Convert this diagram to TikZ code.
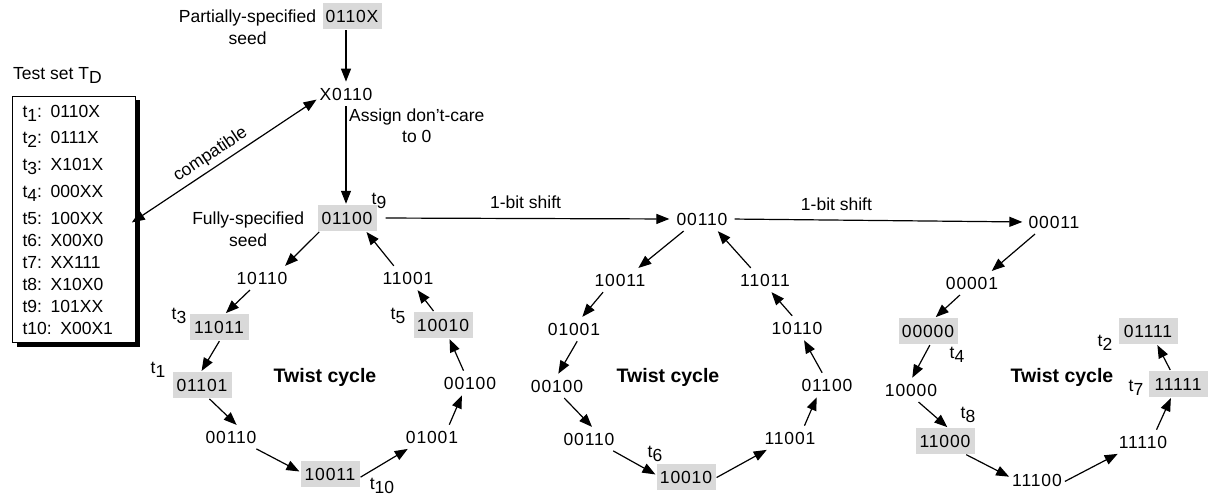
\documentclass[tikz,border=0pt]{standalone}
\usepackage{fontspec}
\setmainfont{Liberation Sans}
\newfontfamily\bitsfont{Liberation Sans}[LetterSpace=5]
\usetikzlibrary{arrows.meta,positioning,calc,shadows}
\newcommand{\tsub}[1]{t\raisebox{-0.22em}{#1}}

\begin{document}
\begin{tikzpicture}[
  x=1pt, y=-1pt,
  font=\fontsize{17.5}{21}\selectfont,
  >={Triangle[length=13pt,width=10pt]},
  bits/.style={font=\fontsize{17.5}{21}\selectfont\bitsfont,inner xsep=2pt,inner ysep=5pt},
  tv/.style={bits,fill=gray!30,minimum width=59pt,minimum height=26pt,inner sep=0pt},
  lbl/.style={inner sep=0pt},
  tlab/.style={inner sep=0pt},
  cyc/.style={font=\fontsize{19.5}{23}\selectfont\bfseries,inner sep=0pt},
  flow/.style={->,line width=1.2pt,shorten <=1pt,shorten >=1pt},
]
\useasboundingbox (0,0) rectangle (1208,500);

\node[lbl,anchor=base west] (tdtitle) at (13,80) {Test set T\raisebox{-0.22em}{D}};
\node[draw,fill=white,line width=1pt,anchor=north west,
  drop shadow={shadow xshift=4pt,shadow yshift=-4pt,fill=black,opacity=1},
  inner xsep=10pt,inner ysep=8.5pt,text width=103pt,align=left,
  font=\fontsize{17.5}{22}\selectfont] (tdbox) at (12,96)
  {\tsub{1}: 0110X\\[4pt]\tsub{2}: 0111X\\[5pt]\tsub{3}: X101X\\[5pt]\tsub{4}: 000XX\\[5pt]
   t5: 100XX\\t6: X00X0\\t7: XX111\\t8: X10X0\\t9: 101XX\\t10: X00X1};

\node[tv] (pseed) at (352,16) {0110X};
\node[lbl,anchor=base east] (ptxt) at ([xshift=-6pt]pseed.base west) {Partially-specified};
\node[lbl,anchor=base] (ptxtb) at ([yshift=-22pt]ptxt.base) {seed};
\node[bits] (unk) at (346,94) {X0110};
\node[lbl,anchor=base west] (asg1) at (349,122) {Assign don't-care};
\node[lbl,anchor=base] (asg2) at ([yshift=-21pt]asg1.base) {to 0};

% first twist cycle
\node[tv] (s1) at (347,218) {01100};
\node[lbl,anchor=base east] (ftxt) at ([xshift=-13pt]s1.base west) {Fully-specified};
\node[lbl,anchor=base] (ftxtb) at ([yshift=-22pt]ftxt.base) {seed};
\node[bits] (a1) at (262,278) {10110};
\node[tv] (a2) at (219,327) {11011};
\node[tv] (a3) at (202,385) {01101};
\node[bits] (a4) at (231,437) {00110};
\node[tv] (a5) at (330,474) {10011};
\node[bits] (a6) at (432,437) {01001};
\node[bits] (a7) at (470,383) {00100};
\node[tv] (a8) at (443,325) {10010};
\node[bits] (a9) at (408,278) {11001};
\node[cyc,anchor=base] (tw1) at (325,382) {Twist cycle};

% second twist cycle
\node[bits] (b0) at (702,219) {00110};
\node[bits] (b1) at (620,280) {10011};
\node[bits] (b2) at (574,329) {01001};
\node[bits] (b3) at (557,386) {00100};
\node[bits] (b4) at (589,439) {00110};
\node[tv] (b5) at (686,477) {10010};
\node[bits] (b6) at (790,438) {11001};
\node[bits] (b7) at (827,385) {01100};
\node[bits] (b8) at (797,328) {10110};
\node[bits] (b9) at (765,280) {11011};
\node[cyc,anchor=base] (tw2) at (668,382) {Twist cycle};

% third twist cycle
\node[bits] (c0) at (1054,222) {00011};
\node[bits] (c1) at (972,283) {00001};
\node[tv] (c2) at (928,331) {00000};
\node[bits] (c3) at (911,390) {10000};
\node[tv] (c4) at (945,441) {11000};
\node[bits] (c5) at (1037,480) {11100};
\node[bits] (c6) at (1143,442) {11110};
\node[tv] (c7) at (1178,384) {11111};
\node[tv] (c8) at (1148,331) {01111};
\node[cyc,anchor=base] (tw3) at (1062,382) {Twist cycle};

\node[tlab] (l9) at (379,201) {\tsub{9}};
\node[tlab] (l3) at (179,316) {\tsub{3}};
\node[tlab] (l1) at (158,370) {\tsub{1}};
\node[tlab] (l10) at (382,486) {\tsub{10}};
\node[tlab] (l5) at (398,316) {\tsub{5}};
\node[tlab] (l6) at (655,454) {\tsub{6}};
\node[tlab] (l4) at (957,355) {\tsub{4}};
\node[tlab] (l8) at (968,415) {\tsub{8}};
\node[tlab] (l7) at (1136,388) {\tsub{7}};
\node[tlab] (l2) at (1105,343) {\tsub{2}};

\draw[flow] (pseed.south -| unk) -- (unk.north);
\draw[flow] (unk.south) -- (unk.south |- s1.north);
\draw[flow,<->,shorten <=-5pt] (tdbox.east) -- node[lbl,sloped,above=4pt,pos=0.45] {compatible} (unk.190);
\draw[flow,shorten <=9pt,shorten >=5pt] (s1.east) -- node[lbl,above=9pt] {1-bit shift} (b0.west);
\draw[flow,shorten <=5pt,shorten >=4pt] (b0.east) -- node[lbl,above=9pt,pos=0.36] {1-bit shift} (c0.west);

\draw[flow] (s1.206) -- (a1.27);
\draw[flow] (a1.225) -- (a2.65);
\draw[flow] (a2.274) -- (a3.94);
\draw[flow] (a3.297) -- (a4.61);
\draw[flow] (a4.335) -- (a5.176);
\draw[flow] (a5.353) -- (a6.206);
\draw[flow] (a6.34) -- (a7.236);
\draw[flow] (a7.118) -- (a8.295);
\draw[flow] (a8.124) -- (a9.308);
\draw[flow] (a9.140) -- (s1.325);

\draw[flow] (b0.213) -- (b1.33);
\draw[flow] (b1.215) -- (b2.56);
\draw[flow] (b2.288) -- (b3.86);
\draw[flow] (b3.300) -- (b4.72);
\draw[flow] (b4.334) -- (b5.176);
\draw[flow] (b5.358) -- (b6.207);
\draw[flow] (b6.39) -- (b7.229);
\draw[flow] (b7.111) -- (b8.300);
\draw[flow] (b8.110) -- (b9.297);
\draw[flow] (b9.140) -- (b0.323);

\draw[flow] (c0.212) -- (c1.31);
\draw[flow] (c1.225) -- (c2.62);
\draw[flow] (c2.280) -- (c3.86);
\draw[flow] (c3.301) -- (c4.77);
\draw[flow] (c4.327) -- (c5.174);
\draw[flow] (c5.356) -- (c6.205);
\draw[flow] (c6.41) -- (c7.243);
\draw[flow] (c7.119) -- (c8.304);
\end{tikzpicture}
\end{document}
